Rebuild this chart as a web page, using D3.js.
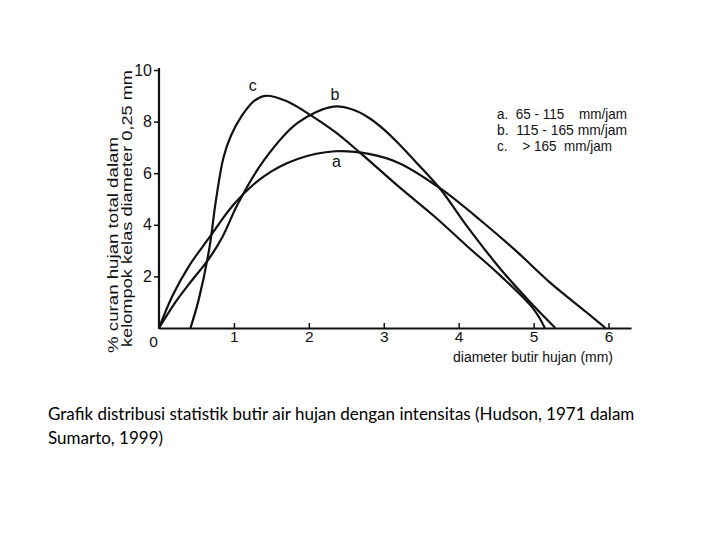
<!DOCTYPE html>
<html lang="id">
  <head>
    <meta charset="utf-8">
    <title>Distribusi butir hujan</title>
    <script src="https://d3js.org/d3.v7.min.js"></script>
    <style>
      body { margin: 0; background: #fff; }
      .grafik text { font-family: "Liberation Sans", Arial, sans-serif; fill: #111; }
      .grafik .domain { stroke: #111; stroke-width: 2.2; }
      .grafik .tick line { stroke: #111; stroke-width: 1.5; }
      .kurva { fill: none; stroke: #111; stroke-width: 2.2; }
      .caption { font-family: Lato, "Open Sans", sans-serif; font-size: 17px; fill: #000; }
    </style>
  </head>
  <body>
    <div id="chart"></div>
    <script type="text/javascript">
      "use strict"
      // nilai (diameter mm, persen)
      var diameterA = [0, 0.18, 0.4, 0.67, 1.0, 1.4, 1.85, 2.35, 2.8, 3.2, 3.76, 4.33, 4.78, 5.22, 5.71, 5.96];
      var persenA   = [0, 1.25, 2.4, 3.5, 4.8, 5.88, 6.55, 6.85, 6.75, 6.4, 5.4, 4.08, 2.95, 1.76, 0.6, 0];
      var diameterB = [0, 0.22, 0.4, 0.67, 0.85, 1.05, 1.4, 1.85, 2.33, 2.6, 2.8, 3.0, 3.18, 3.44, 3.76, 4.11, 4.56, 5.0, 5.29];
      var persenB   = [0, 1.0, 1.7, 2.7, 3.55, 4.8, 6.5, 7.95, 8.58, 8.45, 8.15, 7.7, 7.2, 6.4, 5.37, 3.95, 2.28, 0.86, 0];
      var diameterC = [0.42, 0.53, 0.67, 0.76, 0.86, 0.96, 1.1, 1.27, 1.42, 1.7, 1.98, 2.35, 2.69, 3.22, 3.67, 4.11, 4.56, 5.0, 5.15];
      var persenC   = [0, 1.1, 3.05, 4.95, 6.6, 7.45, 8.2, 8.8, 9.0, 8.8, 8.33, 7.6, 6.78, 5.43, 4.34, 3.18, 2.02, 0.73, 0];
      var tickX = [0, 1, 2, 3, 4, 5, 6];
      var tickY = [2, 4, 6, 8, 10];
      var legenda = ["a.  65 - 115    mm/jam", "b.  115 - 165 mm/jam", "c.    > 165  mm/jam"];
      var labelKurva = ["a", "b", "c"];

      var larguraSVG = 720, alturaSVG = 540;
      var svg = d3.select('#chart').append('svg')
          .attr('width', larguraSVG)
          .attr('height', alturaSVG);
      var grafico = svg.append('g').attr('class', 'grafik');

      var x = d3.scaleLinear().domain([0, 6.3]).range([159, 631]);
      var y = d3.scaleLinear().domain([0, 10]).range([328, 70]);

      // eixos
      var eixoX = grafico.append('g')
          .attr('transform', 'translate(0,' + y(0) + ')')
          .call(d3.axisBottom(x).tickValues(tickX).tickFormat(d3.format('d'))
                .tickSizeInner(-5).tickSizeOuter(0).tickPadding(3));
      eixoX.selectAll('text').style('font-size', '15.5px');
      eixoX.selectAll('.tick').filter(d => d === 0).select('line').remove();
      eixoX.selectAll('.tick').filter(d => d === 0).select('text').attr('dx', -6).attr('dy', '1.05em');

      var eixoY = grafico.append('g')
          .attr('transform', 'translate(' + x(0) + ',0)')
          .call(d3.axisLeft(y).tickValues(tickY).tickFormat(d3.format('d'))
                .tickSizeInner(5).tickSizeOuter(0).tickPadding(2));
      eixoY.selectAll('text').style('font-size', '16px');
      eixoY.select('.domain').attr('d', 'M0,' + (y(0) + 1) + 'V' + (y(10) - 2));

      // as curvas
      var linha = d3.line()
          .x(d => x(d[0]))
          .y(d => y(d[1]))
          .curve(d3.curveCatmullRom.alpha(0.5));
      var series = [d3.zip(diameterA, persenA), d3.zip(diameterB, persenB), d3.zip(diameterC, persenC)];
      grafico.selectAll('.kurva')
          .data(series)
          .enter().append('path')
            .attr('class', 'kurva')
            .attr('d', linha);

      // rotulos das curvas, perto do pico
      var posLabel = [[2.37, 6.85, 16], [2.35, 8.58, -7], [1.25, 9.0, -5]];
      grafico.selectAll('.lbl')
          .data(labelKurva)
          .enter().append('text')
            .attr('class', 'lbl')
            .attr('x', (d, i) => x(posLabel[i][0]))
            .attr('y', (d, i) => y(posLabel[i][1]) + posLabel[i][2])
            .attr('text-anchor', 'middle')
            .style('font-size', '16px')
            .text(d => d);

      // legenda
      var larguraLeg = [130, 130, 115];
      grafico.selectAll('.leg')
          .data(legenda)
          .enter().append('text')
            .attr('class', 'leg')
            .attr('x', 497)
            .attr('y', (d, i) => 119 + i * 16)
            .attr('textLength', (d, i) => larguraLeg[i])
            .attr('lengthAdjust', 'spacingAndGlyphs')
            .style('font-size', '15px')
            .style('white-space', 'pre')
            .attr('xml:space', 'preserve')
            .text(d => d);

      // titulos dos eixos
      grafico.append('text')
        .attr('x', 453).attr('y', 362)
        .attr('textLength', 160)
        .attr('lengthAdjust', 'spacingAndGlyphs')
        .style('font-size', '15.5px')
        .text('diameter butir hujan (mm)');
      grafico.append('text')
        .attr('transform', 'translate(118,353) rotate(-90)')
        .attr('textLength', 216)
        .attr('lengthAdjust', 'spacingAndGlyphs')
        .style('font-size', '14px')
        .text('% curan hujan total dalam');
      grafico.append('text')
        .attr('transform', 'translate(132,347) rotate(-90)')
        .attr('textLength', 277)
        .attr('lengthAdjust', 'spacingAndGlyphs')
        .style('font-size', '14px')
        .text('kelompok kelas diameter 0,25 mm');

      // keterangan
      svg.append('text').attr('class', 'caption')
        .attr('x', 48).attr('y', 420)
        .text('Grafik distribusi statistik butir air hujan dengan intensitas (Hudson, 1971 dalam');
      svg.append('text').attr('class', 'caption')
        .attr('x', 48).attr('y', 444)
        .text('Sumarto, 1999)');
    </script>
  </body>
</html>
